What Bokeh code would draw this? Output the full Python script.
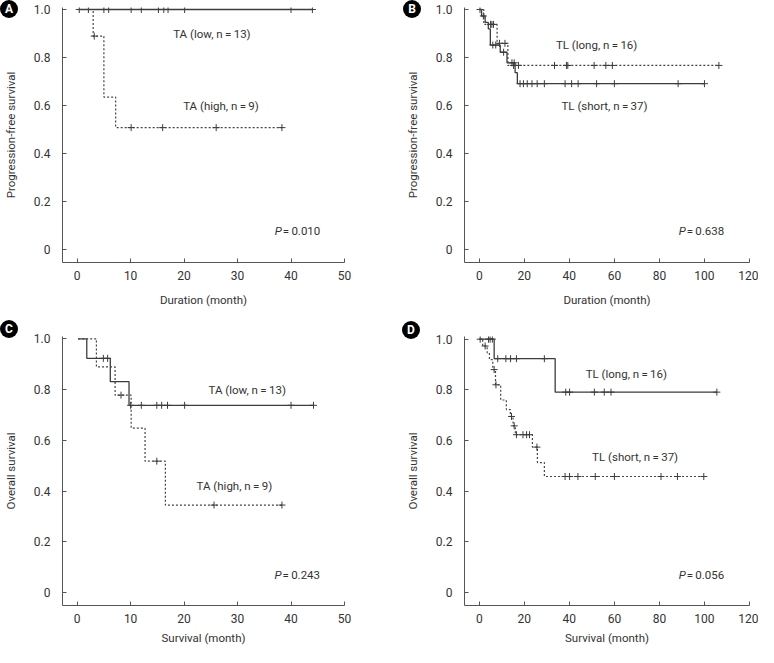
import numpy as np
from bokeh.plotting import figure
from bokeh.models import FixedTicker, CustomJSTickFormatter, Range1d, GridBox, Div
from bokeh.core.properties import value
from bokeh.embed import file_html
from bokeh.resources import INLINE

FONT = "Roboto"
FS = "12px"
FS_TXT = "11.5px"
TXT = "#333333"
LINE = "#3c3c3c"
TS = "\u2009"

Y_TICKS = [0, 0.2, 0.4, 0.6, 0.8, 1.0]

A_low_time = [0.3]
A_low_surv = [1.0]
A_low_cens = [0.4, 2.1, 5.0, 5.9, 10.1, 12.0, 15.2, 16.2, 17.0, 20.1, 40.0, 44.0]
A_high_time = [0.3, 3.0, 5.0, 7.2]
A_high_surv = [1.0, 0.889, 0.635, 0.508]
A_high_cens = [3.2, 10.1, 16.0, 26.0, 38.3]

B_long_time = [0.0, 2.0, 7.9, 12.7]
B_long_surv = [1.0, 0.938, 0.859, 0.767]
B_long_cens = [5.0, 5.6, 6.3, 9.0, 11.4, 15.2, 17.4, 33.4, 38.7, 39.3, 51.0, 56.2, 59.1, 106.4]
B_short_time = [0.0, 1.0, 2.6, 4.0, 4.9, 9.3, 12.3, 15.9, 16.9]
B_short_surv = [1.0, 0.973, 0.946, 0.919, 0.852, 0.822, 0.778, 0.737, 0.691]
B_short_cens = [0.3, 1.8, 6.0, 7.3, 10.8, 14.5, 15.5, 18.1, 19.6, 21.3, 23.4, 25.7, 28.9,
                38.1, 41.0, 43.9, 52.1, 60.0, 88.3, 100.0]

C_low_time = [0.2, 1.8, 6.2, 9.7]
C_low_surv = [1.0, 0.923, 0.831, 0.738]
C_low_cens = [4.9, 5.7, 10.0, 12.0, 14.9, 15.8, 16.9, 20.1, 40.0, 44.2]
C_high_time = [0.2, 3.6, 7.1, 10.1, 12.7, 16.5]
C_high_surv = [1.0, 0.889, 0.778, 0.648, 0.518, 0.345]
C_high_cens = [8.2, 14.9, 25.6, 38.3]

D_long_time = [0.0, 6.6, 33.7]
D_long_surv = [1.0, 0.923, 0.791]
D_long_cens = [0.4, 4.1, 4.8, 5.8, 8.2, 11.8, 13.9, 16.5, 28.9, 38.4, 40.1, 51.1, 55.5, 58.5, 105.5]
D_short_time = [0.0, 1.5, 3.5, 4.5, 6.0, 7.2, 9.5, 12.0, 13.8, 15.0, 16.0, 23.6, 25.8, 28.9]
D_short_surv = [1.0, 0.973, 0.946, 0.919, 0.880, 0.820, 0.760, 0.722, 0.695, 0.658, 0.623,
                0.574, 0.513, 0.458]
D_short_cens = [2.6, 6.6, 7.4, 14.3, 15.5, 16.5, 19.4, 21.0, 22.3, 25.6, 38.1, 40.1, 43.8,
                51.5, 60.0, 80.7, 88.0, 99.7]


def km_curve(p, times, surv, cens, dotted):
    end = max(list(cens) + list(times))
    xs = list(times) + [end]
    ys = list(surv) + [surv[-1]]
    kw = dict(line_color=LINE, line_width=1.3)
    if dotted:
        kw = dict(line_color="#444444", line_width=1.2, line_dash="2 2")
    p.step(xs, ys, mode="after", **kw)
    idx = np.searchsorted(np.array(times), np.array(cens), side="right") - 1
    cy = [surv[i] for i in idx]
    p.scatter(cens, cy, marker="cross", size=7, line_color=LINE, line_width=1)


def make_panel(x_lo, x_end, x_step, y_lo, y_hi, width, height, bl, br, bt, bb,
               ylabel, xlabel, x_label_standoff):
    p = figure(width=width, height=height, x_range=Range1d(x_lo, x_end),
               y_range=Range1d(y_lo, y_hi), output_backend="svg", toolbar_location=None,
               min_border_left=bl, min_border_right=br, min_border_top=bt,
               min_border_bottom=bb)
    p.xgrid.visible = False
    p.ygrid.visible = False
    p.outline_line_color = None
    p.xaxis.ticker = FixedTicker(ticks=list(range(0, int(x_end) + 1, x_step)))
    p.yaxis.ticker = FixedTicker(ticks=Y_TICKS)
    p.yaxis.formatter = CustomJSTickFormatter(code="return tick == 0 ? '0' : tick.toFixed(1);")
    for ax in p.axis:
        ax.major_tick_in = 4
        ax.major_tick_out = 0
        ax.minor_tick_in = 0
        ax.minor_tick_out = 0
        ax.axis_line_color = "#555555"
        ax.major_tick_line_color = "#555555"
        ax.major_label_text_font = FONT
        ax.major_label_text_font_size = FS
        ax.major_label_text_color = TXT
        ax.axis_label_text_font = FONT
        ax.axis_label_text_font_size = FS_TXT
        ax.axis_label_text_font_style = "normal"
        ax.axis_label_text_color = TXT
    p.yaxis.major_label_standoff = 12
    p.xaxis.major_label_standoff = 8
    p.yaxis.axis_label_standoff = 13
    p.xaxis.axis_label_standoff = x_label_standoff
    p.yaxis.axis_label = ylabel
    p.xaxis.axis_label = xlabel
    return p


def letter_badge(letter, top, left):
    return Div(text=letter, width=18, height=18, margin=(top, 0, 0, left),
               styles={"background-color": "black", "color": "white",
                       "border-radius": "50%", "font-family": FONT, "font-weight": "bold",
                       "font-size": "12px", "line-height": "18px", "text-align": "center",
                       "position": "relative", "z-index": "10"})


def add_text(p, x, y, txt, align="center"):
    p.text(x=[x], y=[y], text=[txt], text_align=align, text_baseline="middle",
           text_font=value(FONT), text_font_size=FS_TXT, text_color=TXT)


def add_p(p, x, y, num):
    p.text(x=[x], y=[y], text=["P"], text_align="right", text_baseline="middle",
           x_offset=-1, text_font=value(FONT), text_font_size=FS_TXT, text_color=TXT,
           text_font_style="italic")
    p.text(x=[x], y=[y], text=["=" + TS + num], text_align="left", text_baseline="middle",
           text_font=value(FONT), text_font_size=FS_TXT, text_color=TXT)


pA = make_panel(-2.74, 50, 10, -0.054, 1.0083, 379, 320, 55, 35, 7, 58,
                "Progression-free survival", "Duration (month)", 10)
km_curve(pA, A_low_time, A_low_surv, A_low_cens, False)
km_curve(pA, A_high_time, A_high_surv, A_high_cens, True)
add_text(pA, 25.2, 0.896, "TA (low, n" + TS + "=" + TS + "13)")
add_text(pA, 26.9, 0.60, "TA (high, n" + TS + "=" + TS + "9)")
add_p(pA, 38.45, 0.078, "0.010")

pB = make_panel(-6.57, 120, 20, -0.0537, 1.0083, 379, 320, 85, 9, 5, 58,
                "Progression-free survival", "Duration (month)", 10)
km_curve(pB, B_short_time, B_short_surv, B_short_cens, False)
km_curve(pB, B_long_time, B_long_surv, B_long_cens, True)
add_text(pB, 52.1, 0.852, "TL (long, n" + TS + "=" + TS + "16)")
add_text(pB, 55.6, 0.60, "TL (short, n" + TS + "=" + TS + "37)")
add_p(pB, 92.1, 0.079, "0.638")

pC = make_panel(-2.74, 50, 10, -0.0506, 1.009, 379, 327, 55, 35, 14, 41,
                "Overall survival", "Survival (month)", 5)
km_curve(pC, C_low_time, C_low_surv, C_low_cens, False)
km_curve(pC, C_high_time, C_high_surv, C_high_cens, True)
add_text(pC, 31.8, 0.80, "TA (low, n" + TS + "=" + TS + "13)")
add_text(pC, 29.4, 0.42, "TA (high, n" + TS + "=" + TS + "9)")
add_p(pC, 38.4, 0.068, "0.243")

pD = make_panel(-6.57, 120, 20, -0.0511, 1.0106, 379, 327, 85, 9, 16, 41,
                "Overall survival", "Survival (month)", 5)
km_curve(pD, D_long_time, D_long_surv, D_long_cens, False)
km_curve(pD, D_short_time, D_short_surv, D_short_cens, True)
add_text(pD, 65.3, 0.861, "TL (long, n" + TS + "=" + TS + "16)")
add_text(pD, 69.2, 0.535, "TL (short, n" + TS + "=" + TS + "37)")
add_p(pD, 92.1, 0.071, "0.056")

layout = GridBox(children=[
    (pA, 0, 0), (pB, 0, 1), (pC, 1, 0), (pD, 1, 1),
    (letter_badge("A", 0, 0), 0, 0), (letter_badge("B", 0, 24), 0, 1),
    (letter_badge("C", 0, 0), 1, 0), (letter_badge("D", 1, 23), 1, 1),
], spacing=0)
open("out.html", "w").write(file_html(layout, INLINE))
